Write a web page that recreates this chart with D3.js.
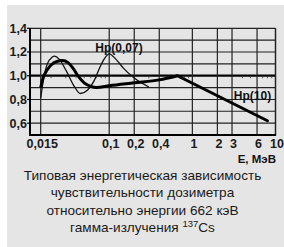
<!DOCTYPE html>
<html><head><meta charset="utf-8">
<script src="https://cdnjs.cloudflare.com/ajax/libs/d3/7.8.5/d3.min.js"></script>
<style>
html,body{margin:0;padding:0;background:#fff;}
svg{display:block;}
</style></head>
<body>
<script>
// ---- data ----
const xTicks = [0.015, 0.1, 0.2, 0.4, 1, 2, 3, 6, 10];
const xTickLabels = ["0,015", "0,1", "0,2", "0,4", "1", "2", "3", "6", "10"];
const yTicks = [0.6, 0.8, 1.0, 1.2, 1.4];
const yTickLabels = ["0,6", "0,8", "1,0", "1,2", "1,4"];
const yGrid = [0.6, 0.7, 0.8, 0.9, 1.0, 1.1, 1.2, 1.3];
const xMinor = [0.02,0.03,0.04,0.05,0.06,0.07,0.08,0.09,0.3,0.5,0.6,0.7,0.8,0.9,4,5,7,8,9];
// Hp(10): energy (MeV), relative response
const hp10E = [0.015,0.016,0.018,0.02,0.0235,0.0275,0.032,0.037,0.042,0.05,0.06,0.07,0.1,0.2,0.4,0.662,8];
const hp10V = [0.90,0.98,1.05,1.09,1.12,1.128,1.11,1.06,1.0,0.94,0.91,0.90,0.915,0.94,0.965,1.0,0.62];
// Hp(0,07)
const hp007E = [0.015,0.0165,0.018,0.0205,0.022,0.025,0.031,0.038,0.045,0.055,0.065,0.075,0.085,0.1,0.12,0.15,0.2,0.3];
const hp007V = [0.81,1.0,1.10,1.155,1.165,1.14,1.03,0.91,0.85,0.88,0.95,1.05,1.13,1.185,1.14,1.06,0.98,0.905];
const labelHp007 = "Hp(0,07)";
const labelHp10 = "Hp(10)";
const axisTitle = "E, МэВ";
const captionLines = ["Типовая энергетическая зависимость","чувствительности дозиметра","относительно энергии 662 кэВ","гамма-излучения "];

// ---- drawing ----
(function(){
const W = 284, H = 247;
const svg = d3.select("body").append("svg").attr("width", W).attr("height", H);
svg.append("rect").attr("x",7).attr("y",5).attr("width",W-7).attr("height",H-5).attr("fill","#e5e5e5");

const x = d3.scaleLog().domain([0.015, 10]).range([40.7, 275.5]);
const y = d3.scaleLinear().domain([0.5, 1.4]).range([135, 28.3]);
const pL = 30, pR = 275.5, pT = 28.3, pB = 135;
const numFont = "'Liberation Sans Narrow','Arial Narrow','Liberation Sans',Arial,sans-serif";
const gridCol = "#222";

const g = svg.append("g");
g.selectAll("line.hg").data(yGrid).join("line")
  .attr("x1", pL).attr("x2", pR)
  .attr("y1", d => y(d)).attr("y2", d => y(d))
  .attr("stroke", d => d === 1.0 ? "#000" : gridCol)
  .attr("stroke-width", d => d === 1.0 ? 2.2 : 1.1);
g.selectAll("line.vg").data(xTicks).join("line")
  .attr("x1", d => x(d)).attr("x2", d => x(d))
  .attr("y1", pT).attr("y2", pB)
  .attr("stroke", gridCol).attr("stroke-width", 1.2);
g.selectAll("line.mt").data(xMinor).join("line")
  .attr("x1", d => x(d)).attr("x2", d => x(d))
  .attr("y1", y(1.0)).attr("y2", y(1.0) + 2.5)
  .attr("stroke", "#333").attr("stroke-width", 0.8);
g.append("line").attr("x1", pL).attr("x2", pR).attr("y1", pT).attr("y2", pT).attr("stroke", gridCol).attr("stroke-width", 1.3);
g.append("line").attr("x1", pR).attr("x2", pR).attr("y1", pT).attr("y2", pB).attr("stroke", gridCol).attr("stroke-width", 1.3);
g.append("line").attr("x1", pL).attr("x2", pL).attr("y1", pT).attr("y2", pB+1).attr("stroke", "#000").attr("stroke-width", 2);
g.append("line").attr("x1", pL-1).attr("x2", pR+0.6).attr("y1", pB).attr("y2", pB).attr("stroke", "#000").attr("stroke-width", 2);

g.selectAll("line.yt").data(yTicks).join("line")
  .attr("x1", pL-3).attr("x2", pL).attr("y1", d => y(d)).attr("y2", d => y(d))
  .attr("stroke", "#000").attr("stroke-width", 1.2);
g.selectAll("text.yl").data(yTicks).join("text")
  .attr("x", 27).attr("y", d => y(d)).attr("dy", "0.35em")
  .attr("text-anchor", "end").attr("font-family", numFont).attr("font-size", 12.5)
  .attr("font-weight", "bold").attr("fill", "#1a1a1a")
  .text((d,i) => yTickLabels[i]);
g.selectAll("text.xl").data(xTicks).join("text")
  .attr("x", d => x(d) + 1.5).attr("y", 148)
  .attr("text-anchor", "middle").attr("font-family", numFont).attr("font-size", 12.5)
  .attr("font-weight", "bold").attr("fill", "#1a1a1a")
  .text((d,i) => xTickLabels[i]);
svg.append("text").attr("x", 276).attr("y", 163).attr("text-anchor", "end")
  .attr("font-family", "'Liberation Sans',Arial,sans-serif").attr("font-size", 11.5)
  .attr("font-weight", "bold").attr("fill", "#111").text(axisTitle);

const hp10 = hp10E.map((e,i) => [e, hp10V[i]]);
const hp007 = hp007E.map((e,i) => [e, hp007V[i]]);
const iPeak = hp10E.indexOf(0.662);
const smooth = d3.line().x(d => x(d[0])).y(d => y(d[1])).curve(d3.curveMonotoneX);
const straight = d3.line().x(d => x(d[0])).y(d => y(d[1]));
svg.append("path").attr("d", smooth(hp007)).attr("fill", "none").attr("stroke", "#111").attr("stroke-width", 1.3);
svg.append("path").attr("d", smooth(hp10.slice(0, iPeak+1))).attr("fill", "none").attr("stroke", "#000").attr("stroke-width", 3).attr("stroke-linejoin","round");
svg.append("path").attr("d", straight(hp10.slice(iPeak))).attr("fill", "none").attr("stroke", "#000").attr("stroke-width", 3).attr("stroke-linecap","round");

svg.append("text").attr("x", 119).attr("y", 51.5).attr("text-anchor", "middle")
  .attr("font-family", "'Liberation Sans',Arial,sans-serif").attr("font-size", 12)
  .attr("font-weight", "bold").attr("fill", "#111").text(labelHp007);
svg.append("text").attr("x", 252.5).attr("y", 100).attr("text-anchor", "middle")
  .attr("font-family", "'Liberation Sans',Arial,sans-serif").attr("font-size", 12)
  .attr("font-weight", "bold").attr("fill", "#111").text(labelHp10);

const cap = svg.append("g").attr("font-family", "'Liberation Sans',Arial,sans-serif")
  .attr("font-size", 13.6).attr("fill", "#1a1a1a").attr("text-anchor", "middle");
captionLines.forEach((t, i) => {
  const tx = cap.append("text").attr("x", 142.5).attr("y", 180 + i * 17.4);
  if (i < 3) tx.text(t);
  else {
    tx.append("tspan").text(t);
    tx.append("tspan").attr("font-size", 9.5).attr("dy", -5).text("137");
    tx.append("tspan").attr("dy", 5).text("Cs");
  }
});
})();
</script>
</body></html>
